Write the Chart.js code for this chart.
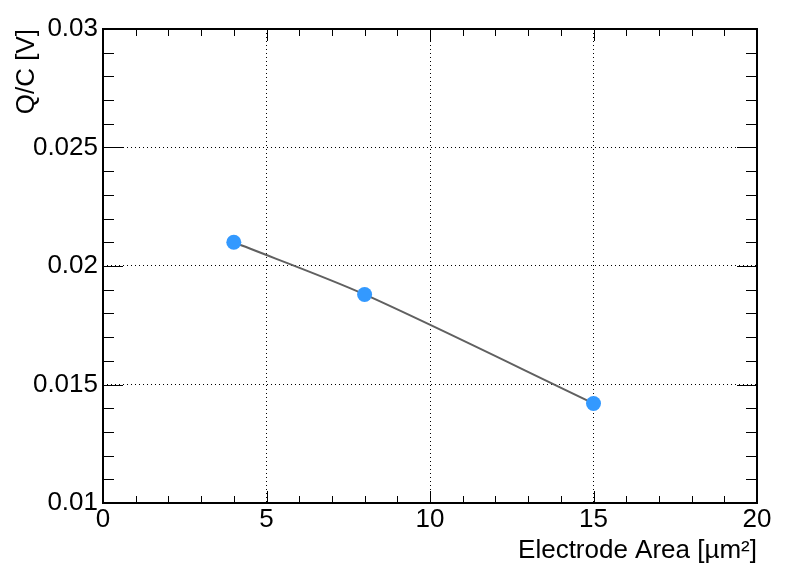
<!DOCTYPE html>
<html>
<head>
<meta charset="utf-8">
<script src="https://cdn.jsdelivr.net/npm/chart.js@4/dist/chart.umd.min.js"></script>
<style>
  html, body { margin: 0; padding: 0; background: #fff; }
  #wrap { width: 798px; height: 573px; }
</style>
</head>
<body>
<div id="wrap"><canvas id="c" width="798" height="573"></canvas></div>
<script>
// data
const area = [4, 8, 15];
const qOverC = [0.0210, 0.0188, 0.0142];
const xTickLabels = ['0', '5', '10', '15', '20'];
const yTickLabels = ['0.01', '0.015', '0.02', '0.025', '0.03'];

const FONT = { family: "'Liberation Sans', Arial, sans-serif", size: 26 };

// ROOT-style frame with inner major/minor ticks on all four sides
const rootFrame = {
    id: 'rootFrame',
    afterDraw(chart) {
        const { ctx, chartArea: a, scales } = chart;
        const xs = scales.x, ys = scales.y;
        ctx.save();
        ctx.strokeStyle = '#000';
        ctx.lineWidth = 1;
        ctx.beginPath();
        for (let i = 0; i <= 20; i++) {
            const px = Math.round(xs.getPixelForValue(i)) + 0.5;
            const len = i % 5 === 0 ? 12 : 7;
            ctx.moveTo(px, a.bottom); ctx.lineTo(px, a.bottom - len);
            ctx.moveTo(px, a.top); ctx.lineTo(px, a.top + len);
        }
        for (let i = 0; i <= 20; i++) {
            const py = Math.round(ys.getPixelForValue(0.01 + i * 0.001)) + 0.5;
            const len = i % 5 === 0 ? 20 : 11;
            ctx.moveTo(a.left, py); ctx.lineTo(a.left + len, py);
            ctx.moveTo(a.right, py); ctx.lineTo(a.right - len, py);
        }
        ctx.stroke();
        ctx.lineWidth = 2;
        ctx.strokeRect(a.left, a.top, a.right - a.left, a.bottom - a.top);
        ctx.restore();
    }
};

new Chart(
    document.getElementById('c'),
    {
        type: 'line',
        data: {
            datasets: [
                {
                    data: area.map((x, i) => ({ x: x, y: qOverC[i] })),
                    borderColor: '#606060',
                    borderWidth: 2,
                    tension: 0.3,
                    pointRadius: 7.5,
                    pointBorderWidth: 0,
                    pointBackgroundColor: '#3399ff',
                    pointBorderColor: '#3399ff'
                }
            ]
        },
        options: {
            responsive: false,
            animation: false,
            layout: { padding: { top: 29, right: 41, left: 0, bottom: 0 } },
            plugins: { legend: { display: false }, tooltip: { enabled: false } },
            scales: {
                x: {
                    type: 'linear',
                    min: 0,
                    max: 20,
                    afterFit: s => { s.height = 70; },
                    afterBuildTicks: s => { s.ticks = xTickLabels.map(t => ({ value: +t })); },
                    ticks: {
                        font: FONT,
                        color: '#000',
                        padding: 1,
                        maxRotation: 0,
                        autoSkip: false,
                        callback: (v, i) => xTickLabels[i]
                    },
                    grid: { color: '#000', lineWidth: 1, drawTicks: false },
                    border: { display: false, dash: [1, 3] },
                    title: {
                        display: true,
                        text: 'Electrode Area [µm²]',
                        align: 'end',
                        font: FONT,
                        color: '#000',
                        padding: { top: 0, bottom: 7 }
                    }
                },
                y: {
                    type: 'linear',
                    min: 0.01,
                    max: 0.03,
                    afterFit: s => { s.width = 103; },
                    afterBuildTicks: s => { s.ticks = yTickLabels.map(t => ({ value: +t })); },
                    ticks: {
                        font: FONT,
                        color: '#000',
                        padding: 5,
                        autoSkip: false,
                        callback: (v, i) => yTickLabels[i]
                    },
                    grid: { color: '#000', lineWidth: 1, drawTicks: false },
                    border: { display: false, dash: [1, 3] },
                    title: {
                        display: true,
                        text: 'Q/C [V]',
                        align: 'end',
                        font: FONT,
                        color: '#000',
                        padding: { top: 11, bottom: 0 }
                    }
                }
            }
        },
        plugins: [rootFrame]
    }
);
</script>
</body>
</html>
